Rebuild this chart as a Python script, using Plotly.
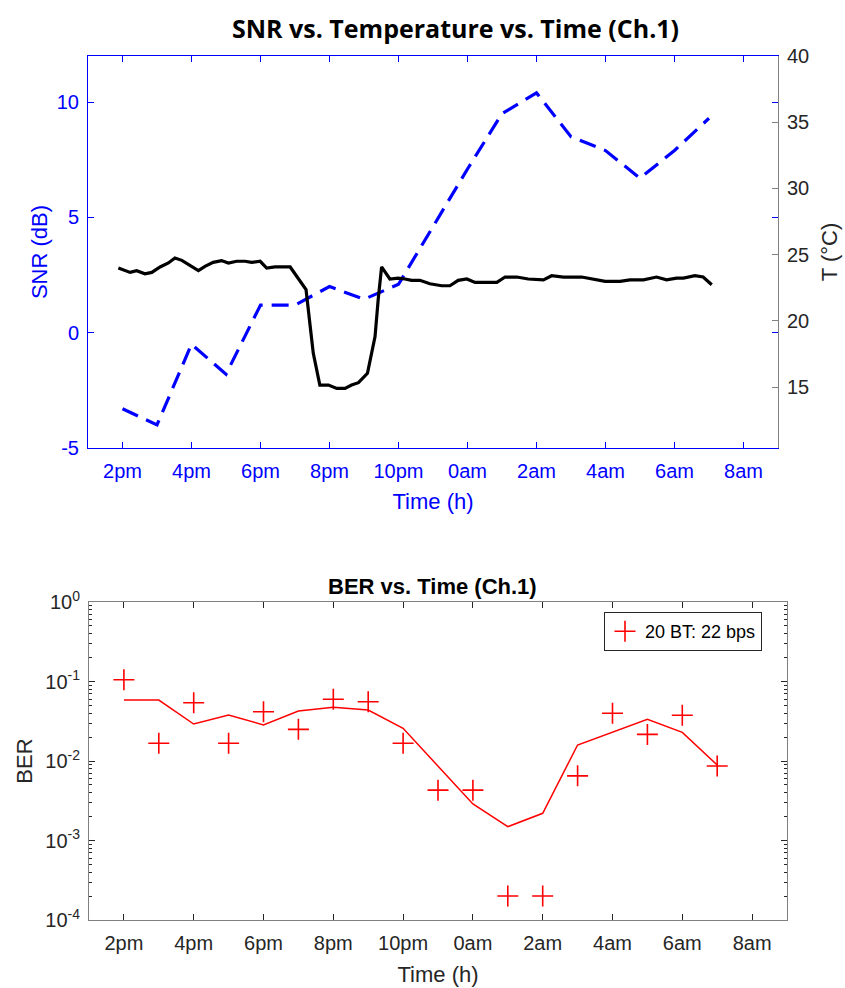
import plotly.graph_objects as go

# ---------------- data ----------------
snr_hours = [14, 15, 16, 17, 18, 19, 20, 21, 22, 23, 24, 25, 26, 27, 28, 29, 30, 31]
snr_db = [-3.3, -4.0, -0.5, -1.8, 1.2, 1.2, 2.0, 1.45, 2.1, 4.6, 7.1, 9.5, 10.4, 8.5, 7.9, 6.7, 7.9, 9.3]

temp_hours = [13.88, 14.22, 14.41, 14.65, 14.85, 15.09, 15.33, 15.52, 15.72, 15.96, 16.2, 16.39,
              16.63, 16.87, 17.07, 17.31, 17.55, 17.74, 17.99, 18.18, 18.42, 18.86, 19.1, 19.32,
              19.43, 19.53, 19.72, 19.97, 20.21, 20.45, 20.64, 20.84, 21.1, 21.22, 21.32, 21.41,
              21.51, 21.75, 21.99, 22.19, 22.38, 22.62, 22.91, 23.25, 23.49, 23.73, 23.98, 24.22,
              24.46, 24.85, 25.09, 25.43, 25.76, 26.0, 26.2, 26.44, 26.78, 27.31, 27.65, 27.99,
              28.42, 28.71, 29.1, 29.48, 29.77, 30.06, 30.26, 30.59, 30.83, 31.08]
temp_c = [23.99, 23.66, 23.79, 23.56, 23.66, 24.07, 24.37, 24.75, 24.57, 24.17, 23.79, 24.12,
          24.42, 24.55, 24.37, 24.5, 24.5, 24.42, 24.5, 23.99, 24.07, 24.07, 23.23, 22.37,
          19.82, 17.55, 15.15, 15.15, 14.9, 14.9, 15.15, 15.33, 16.04, 17.42, 18.81, 21.59,
          24.07, 23.16, 23.23, 23.16, 23.06, 23.06, 22.8, 22.65, 22.65, 23.06, 23.16, 22.9,
          22.9, 22.9, 23.31, 23.31, 23.16, 23.16, 23.1, 23.41, 23.31, 23.31, 23.16, 22.98,
          22.98, 23.1, 23.1, 23.31, 23.1, 23.23, 23.23, 23.41, 23.31, 22.73]

ber_hours = [14, 15, 16, 17, 18, 19, 20, 21, 22, 23, 24, 25, 26, 27, 28, 29, 30, 31]
ber_points = [0.105, 0.0167, 0.054, 0.0167, 0.0417, 0.025, 0.0597, 0.0557, 0.0167, 0.0043,
              0.0043, 0.0002, 0.0002, 0.0065, 0.0398, 0.0216, 0.0376, 0.00865]
ber_fit = [0.0585, 0.0585, 0.0292, 0.0379, 0.0284, 0.0426, 0.0473, 0.0438, 0.0258, 0.0085,
           0.00288, 0.00149, 0.0022, 0.0159, 0.0229, 0.0334, 0.0229, 0.0089]

time_tickvals = [14, 16, 18, 20, 22, 24, 26, 28, 30, 32]
time_ticktext = ["2pm", "4pm", "6pm", "8pm", "10pm", "0am", "2am", "4am", "6am", "8am"]
snr_tickvals = [-5, 0, 5, 10]
snr_ticktext = ["-5", "0", "5", "10"]
temp_tickvals = [15, 20, 25, 30, 35, 40]
ber_tickvals = [1e-4, 1e-3, 1e-2, 1e-1, 1]
ber_ticktext = ["10<sup>-4</sup>", "10<sup>-3</sup>", "10<sup>-2</sup>", "10<sup>-1</sup>", "10<sup>0</sup>"]
ber_minor = [m * 10.0 ** e for e in range(-4, 0) for m in range(2, 10)]

# ---------------- layout geometry ----------------
W, H = 845, 988
BLUE = "#0000FF"
DARK = "#262626"
GRAY = "#808080"
FONT = "Liberation Sans, Arial, sans-serif"
TICK = 20
TITLE = 22


def px_x(x):
    return x / W


def px_y(y):
    return 1 - y / H


top_dom_x = [px_x(88), px_x(778)]
top_dom_y = [px_y(448), px_y(56)]
bot_dom_x = [px_x(89), px_x(787)]
bot_dom_y = [px_y(920), px_y(602)]

fig = go.Figure()

fig.add_trace(go.Scatter(x=snr_hours, y=snr_db, mode="lines",
                         line=dict(color=BLUE, width=3.2, dash="17px,9px"),
                         xaxis="x", yaxis="y", showlegend=False))
fig.add_trace(go.Scatter(x=temp_hours, y=temp_c, mode="lines",
                         line=dict(color="black", width=3.2),
                         xaxis="x", yaxis="y2", showlegend=False))

fig.add_trace(go.Scatter(x=ber_hours, y=ber_fit, mode="lines",
                         line=dict(color="#FF0000", width=1.5),
                         xaxis="x2", yaxis="y3", showlegend=False))
fig.add_trace(go.Scatter(x=ber_hours, y=ber_points, mode="markers",
                         marker=dict(symbol="cross-thin", size=15, color="#FF0000",
                                     line=dict(width=1.6, color="#FF0000")),
                         xaxis="x2", yaxis="y3", name="20 BT: 22 bps", showlegend=True))

fig.update_layout(
    width=W, height=H,
    margin=dict(l=0, r=0, t=0, b=0, pad=0, autoexpand=False),
    paper_bgcolor="white", plot_bgcolor="white",
    font=dict(family=FONT, color=DARK),
    showlegend=True,
    xaxis=dict(domain=top_dom_x, anchor="y", range=[13, 33], automargin=False,
               tickvals=time_tickvals, ticktext=time_ticktext,
               ticks="inside", ticklen=6, tickcolor=BLUE, tickwidth=1,
               showline=True, linecolor=BLUE, linewidth=1, mirror="ticks",
               showgrid=False, zeroline=False, ticklabelstandoff=5,
               tickfont=dict(size=TICK, color=BLUE, family=FONT),
               title=dict(text="Time (h)", font=dict(size=TITLE, color=BLUE, family=FONT), standoff=12)),
    xaxis3=dict(overlaying="x", side="top", anchor="y", range=[13, 33], automargin=False,
                tickmode="linear", tick0=13.55, dtick=2.22,
                ticks="inside", ticklen=6, tickcolor="black",
                showticklabels=False, showline=True, linecolor=GRAY, linewidth=1,
                showgrid=False, zeroline=False),
    yaxis=dict(domain=top_dom_y, anchor="x", range=[-5, 12], automargin=False,
               tickvals=snr_tickvals, ticktext=snr_ticktext,
               ticks="inside", ticklen=6, tickcolor=BLUE,
               showline=True, linecolor=BLUE, linewidth=1, mirror="ticks",
               showgrid=False, zeroline=False, ticklabelstandoff=4,
               tickfont=dict(size=TICK, color=BLUE, family=FONT),
               title=dict(text="SNR (dB)", font=dict(size=TITLE, color=BLUE, family=FONT), standoff=3)),
    yaxis2=dict(overlaying="y", side="right", anchor="x", range=[10.4, 40], automargin=False,
                tickvals=temp_tickvals,
                ticks="inside", ticklen=6, tickcolor=GRAY,
                showline=True, linecolor=GRAY, linewidth=1,
                showgrid=False, zeroline=False, ticklabelstandoff=4,
                tickfont=dict(size=TICK, color=DARK, family=FONT),
                title=dict(text="T (°C)", font=dict(size=TITLE, color=DARK, family=FONT), standoff=13)),
    xaxis2=dict(domain=bot_dom_x, anchor="y3", range=[13, 33], automargin=False,
                tickvals=time_tickvals, ticktext=time_ticktext,
                ticks="inside", ticklen=6, tickcolor=DARK,
                showline=True, linecolor=GRAY, linewidth=1, mirror="allticks",
                showgrid=False, zeroline=False, ticklabelstandoff=5,
                tickfont=dict(size=TICK, color=DARK, family=FONT),
                title=dict(text="Time (h)", font=dict(size=TITLE, color=DARK, family=FONT), standoff=13)),
    yaxis3=dict(domain=bot_dom_y, anchor="x2", type="log", range=[-4, 0], automargin=False,
                tickvals=ber_tickvals, ticktext=ber_ticktext,
                ticks="inside", ticklen=6, tickcolor=DARK,
                minor=dict(tickvals=ber_minor, ticks="inside", ticklen=3, tickcolor=DARK),
                showline=True, linecolor=GRAY, linewidth=1, mirror="allticks",
                showgrid=False, zeroline=False, ticklabelstandoff=4,
                tickfont=dict(size=TICK, color=DARK, family=FONT),
                title=dict(text="BER", font=dict(size=TITLE, color=DARK, family=FONT), standoff=6)),
    legend=dict(x=px_x(604), y=px_y(612), xanchor="left", yanchor="top",
                bordercolor=DARK, borderwidth=1, bgcolor="white",
                font=dict(size=18, color="black", family=FONT),
                itemwidth=30, tracegroupgap=0),
    annotations=[
        dict(text="<b>SNR vs. Temperature vs. Time (Ch.1)</b>", x=px_x(455), y=px_y(28),
             xref="paper", yref="paper", xanchor="center", yanchor="middle", showarrow=False,
             font=dict(size=25, color="black", family="Open Sans, Lato, sans-serif")),
        dict(text="<b>BER vs. Time (Ch.1)</b>", x=px_x(432), y=px_y(586),
             xref="paper", yref="paper", xanchor="center", yanchor="middle", showarrow=False,
             font=dict(size=22, color="black", family=FONT)),
    ],
)

fig.write_html("out.html")
